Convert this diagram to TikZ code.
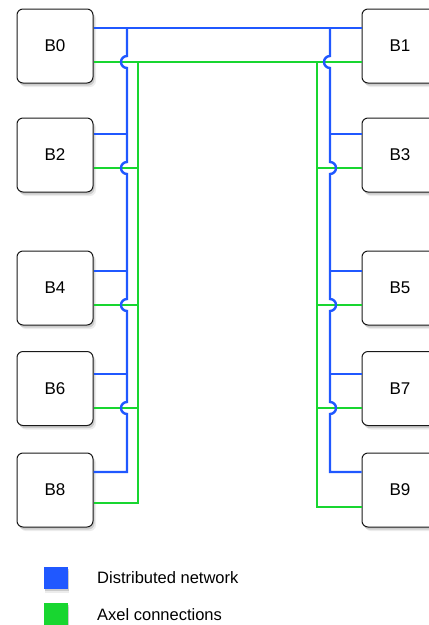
\documentclass[tikz,border=0pt]{standalone}
\usepackage{fontspec}
\setmainfont{Liberation Sans}
\usetikzlibrary{shadows,calc}

\definecolor{netblue}{RGB}{32,88,255}
\definecolor{axelgreen}{RGB}{24,214,48}

\begin{document}
\begin{tikzpicture}[x=1pt, y=-1pt,
    board/.style={rectangle, rounded corners=6pt, draw=black!90, fill=white, line width=1pt, minimum width=76pt, minimum height=74pt, font=\fontsize{17}{20}\selectfont,
        drop shadow={shadow xshift=3pt, shadow yshift=-4pt, opacity=0.15},
        drop shadow={shadow xshift=1.5pt, shadow yshift=-2.5pt, opacity=0.3}},
    netwire/.style={draw=netblue, line width=2.4pt},
    axelwire/.style={draw=axelgreen, line width=2.4pt},
    key/.style={rectangle, inner sep=0pt, minimum width=24pt, minimum height=22pt,
        drop shadow={shadow xshift=1pt, shadow yshift=-4pt, opacity=0.15},
        drop shadow={shadow xshift=0.5pt, shadow yshift=-2pt, opacity=0.3}},
    keytext/.style={anchor=west, inner sep=0pt, font=\fontsize{16.5}{19}\selectfont}
]
\useasboundingbox (0,0) rectangle (429,625);

% Boards, left column
\node[board] (b0) at (55,46) {B0};
\node[board] (b2) at (55,155) {B2};
\node[board] (b4) at (55,288) {B4};
\node[board] (b6) at (55,388.5) {B6};
\node[board] (b8) at (55,490) {B8};

% Boards, right column
\node[board] (b1) at (400,46) {B1};
\node[board] (b3) at (400,155) {B3};
\node[board] (b5) at (400,288) {B5};
\node[board] (b7) at (400,388.5) {B7};
\node[board] (b9) at (400,490) {B9};

% Axel connections
\draw[axelwire] (b0.east |- 0,62) -- (b1.west |- 0,62);
\draw[axelwire] (138,62) -- (138,503) -- (b8.east |- 0,503);
\draw[axelwire] (b2.east |- 0,168) -- (138,168);
\draw[axelwire] (b4.east |- 0,305) -- (138,305);
\draw[axelwire] (b6.east |- 0,408) -- (138,408);
\draw[axelwire] (317,62) -- (317,507) -- (b9.west |- 0,507);
\draw[axelwire] (317,168) -- (b3.west |- 0,168);
\draw[axelwire] (317,305) -- (b5.west |- 0,305);
\draw[axelwire] (317,408) -- (b7.west |- 0,408);

% Distributed network (hops over the green wires)
\draw[netwire] (b0.east |- 0,28) -- (b1.west |- 0,28);
\draw[netwire] (127,28) -- (127,56) arc[start angle=90, end angle=270, radius=6pt]
    -- (127,162) arc[start angle=90, end angle=270, radius=6pt]
    -- (127,299) arc[start angle=90, end angle=270, radius=6pt]
    -- (127,402) arc[start angle=90, end angle=270, radius=6pt]
    -- (127,472) -- (b8.east |- 0,472);
\draw[netwire] (b2.east |- 0,134) -- (127,134);
\draw[netwire] (b4.east |- 0,271) -- (127,271);
\draw[netwire] (b6.east |- 0,374) -- (127,374);
\draw[netwire] (330,28) -- (330,56) arc[start angle=90, end angle=270, radius=6pt]
    -- (330,162) arc[start angle=90, end angle=-90, radius=6pt]
    -- (330,299) arc[start angle=90, end angle=-90, radius=6pt]
    -- (330,402) arc[start angle=90, end angle=-90, radius=6pt]
    -- (330,472) -- (b9.west |- 0,472);
\draw[netwire] (330,134) -- (b3.west |- 0,134);
\draw[netwire] (330,271) -- (b5.west |- 0,271);
\draw[netwire] (330,374) -- (b7.west |- 0,374);

% Legend
\node[key, fill=netblue] (keynet) at (56,578) {};
\node[key, fill=axelgreen, minimum height=24pt] (keyaxel) at (56,615) {};
\node[keytext] (labnet) at (97,578) {Distributed network};
\node[keytext] (labaxel) at (97,615) {Axel connections};

\end{tikzpicture}
\end{document}
